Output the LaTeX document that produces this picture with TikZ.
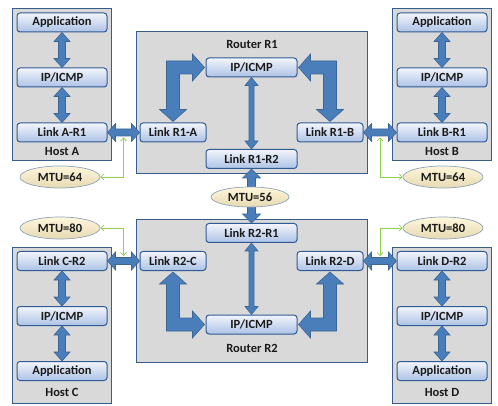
\documentclass[tikz,border=0pt]{standalone}
\usepackage{fontspec}
\setmainfont{Carlito}
\usetikzlibrary{calc,arrows.meta,shapes.geometric}
\definecolor{boxfill}{HTML}{D9D9D9}
\definecolor{boxline}{HTML}{385D8A}
\definecolor{nodetop}{HTML}{F2F5FB}
\definecolor{nodebot}{HTML}{ADC2E5}
\definecolor{nodeline}{HTML}{2F5A94}
\definecolor{arrfill}{HTML}{4A7EBB}
\definecolor{arrline}{HTML}{3A6595}
\definecolor{mtutop}{HTML}{FFF6DC}
\definecolor{mtubot}{HTML}{E6DAB2}
\definecolor{mtuline}{HTML}{8EA2BA}
\definecolor{txt}{HTML}{1A1A1A}
\definecolor{grn}{HTML}{92D050}
\tikzset{
  hostbox/.style={draw=boxline, line width=1.4pt, fill=boxfill, inner sep=0pt, anchor=north west},
  layer/.style={draw=nodeline, line width=1pt, rounded corners=3pt, top color=nodetop, bottom color=nodebot,
    minimum width=90pt, minimum height=19pt, inner sep=0pt, text=txt, font=\bfseries\fontsize{12.5}{14}\selectfont},
  rlink/.style={layer, minimum width=66pt},
  mtu/.style={ellipse, draw=mtuline, line width=0.7pt, top color=mtutop, bottom color=mtubot,
    minimum width=80pt, minimum height=22pt, inner sep=0pt, text=txt, font=\bfseries\fontsize{12.5}{14}\selectfont},
  lbl/.style={font=\bfseries\fontsize{12.5}{14}\selectfont, text=txt, inner sep=0pt},
  blk/.style={fill=arrfill, draw=arrline, line width=0.6pt, line join=miter},
  mtulink/.style={draw=grn, line width=0.8pt, {Straight Barb[length=3pt,width=6pt]}-{Straight Barb[length=3pt,width=6pt]}},
}
% vertical double block arrow: #1 top tip, #2 bottom tip, #3 shaft half, #4 head half, #5 head length
\newcommand\VDbl[5]{%
  \path[blk] let \p1=#1, \p2=#2 in
  (\x1,\y1) -- (\x1+#4,\y1-#5) -- (\x1+#3,\y1-#5) -- (\x1+#3,\y2+#5) -- (\x1+#4,\y2+#5) -- (\x1,\y2)
  -- (\x1-#4,\y2+#5) -- (\x1-#3,\y2+#5) -- (\x1-#3,\y1-#5) -- (\x1-#4,\y1-#5) -- cycle;}
% horizontal double block arrow: #1 left tip, #2 right tip
\newcommand\HDbl[5]{%
  \path[blk] let \p1=#1, \p2=#2 in
  (\x1,\y1) -- (\x1+#5,\y1+#4) -- (\x1+#5,\y1+#3) -- (\x2-#5,\y1+#3) -- (\x2-#5,\y1+#4) -- (\x2,\y1)
  -- (\x2-#5,\y1-#4) -- (\x2-#5,\y1-#3) -- (\x1+#5,\y1-#3) -- (\x1+#5,\y1-#4) -- cycle;}
% bent double block arrow: #1 vertical tip, #2 horizontal tip, #3 dx sign, #4 dy sign (towards vertical tip)
\newcommand\LDbl[4]{%
  \path[blk] let \p1=#1, \p2=#2 in
  ({\x1-(#3)*6.5pt},{\y2-(#4)*6.5pt}) -- ({\x2-(#3)*12pt},{\y2-(#4)*6.5pt}) -- ({\x2-(#3)*12pt},{\y2-(#4)*13.5pt})
  -- (\x2,\y2) -- ({\x2-(#3)*12pt},{\y2+(#4)*13.5pt}) -- ({\x2-(#3)*12pt},{\y2+(#4)*6.5pt})
  -- ({\x1+(#3)*6.5pt},{\y2+(#4)*6.5pt}) -- ({\x1+(#3)*6.5pt},{\y1-(#4)*12pt}) -- ({\x1+(#3)*13.5pt},{\y1-(#4)*12pt})
  -- (\x1,\y1) -- ({\x1-(#3)*13.5pt},{\y1-(#4)*12pt}) -- ({\x1-(#3)*6.5pt},{\y1-(#4)*12pt}) -- cycle;}
\begin{document}
\begin{tikzpicture}[x=1pt,y=-1pt]
\useasboundingbox (0,0) rectangle (498,406);
% containers
\node[hostbox, minimum width=99pt, minimum height=152pt] (hostA) at (12,8) {};
\node[hostbox, minimum width=99pt, minimum height=152pt] (hostB) at (392,8) {};
\node[hostbox, minimum width=99pt, minimum height=156pt] (hostC) at (12,247) {};
\node[hostbox, minimum width=99pt, minimum height=156pt] (hostD) at (392,247) {};
\node[hostbox, minimum width=231pt, minimum height=142pt] (rtr1) at (136,31) {};
\node[hostbox, minimum width=231pt, minimum height=143pt] (rtr2) at (136,219) {};
% labels
\node[lbl] (tA) at (62,151) {Host A};
\node[lbl] (tB) at (442,151) {Host B};
\node[lbl] (tC) at (62,392) {Host C};
\node[lbl] (tD) at (442,392) {Host D};
\node[lbl] (tR1) at (252,44) {Router R1};
\node[lbl] (tR2) at (252,348) {Router R2};
% host A
\node[layer] (appA) at (62,22.5) {Application};
\node[layer] (ipA) at (62,77.5) {IP/ICMP};
\node[layer] (lA) at (62,132.5) {Link A-R1};
% host B
\node[layer] (appB) at (442,22.5) {Application};
\node[layer] (ipB) at (442,77.5) {IP/ICMP};
\node[layer] (lB) at (442,132.5) {Link B-R1};
% host C
\node[layer] (lC) at (62,261) {Link C-R2};
\node[layer] (ipC) at (62,316) {IP/ICMP};
\node[layer] (appC) at (62,371) {Application};
% host D
\node[layer] (lD) at (442,261) {Link D-R2};
\node[layer] (ipD) at (442,316) {IP/ICMP};
\node[layer] (appD) at (442,371) {Application};
% router R1
\node[layer, minimum width=91pt] (ip1) at (251.5,67.5) {IP/ICMP};
\node[rlink] (lr1a) at (173,132.5) {Link R1-A};
\node[rlink] (lr1b) at (330,132.5) {Link R1-B};
\node[layer, minimum width=91pt] (lr12) at (251.5,159) {Link R1-R2};
% router R2
\node[layer, minimum width=91pt] (lr21) at (251.5,233) {Link R2-R1};
\node[rlink] (lr2c) at (173,261) {Link R2-C};
\node[rlink] (lr2d) at (330,261) {Link R2-D};
\node[layer, minimum width=91pt] (ip2) at (251.5,324.5) {IP/ICMP};
% host arrows
\VDbl{(appA.south)}{(ipA.north)}{3.5pt}{8pt}{9pt}
\VDbl{(ipA.south)}{(lA.north)}{3.5pt}{8pt}{9pt}
\VDbl{(appB.south)}{(ipB.north)}{3.5pt}{8pt}{9pt}
\VDbl{(ipB.south)}{(lB.north)}{3.5pt}{8pt}{9pt}
\VDbl{(lC.south)}{(ipC.north)}{3.5pt}{8pt}{9pt}
\VDbl{(ipC.south)}{(appC.north)}{3.5pt}{8pt}{9pt}
\VDbl{(lD.south)}{(ipD.north)}{3.5pt}{8pt}{9pt}
\VDbl{(ipD.south)}{(appD.north)}{3.5pt}{8pt}{9pt}
% host-router links
\HDbl{(lA.east)}{(lr1a.west)}{3.5pt}{9pt}{8pt}
\HDbl{(lr1b.east)}{(lB.west)}{3.5pt}{9pt}{8pt}
\HDbl{(lC.east)}{(lr2c.west)}{3.5pt}{9pt}{8pt}
\HDbl{(lr2d.east)}{(lD.west)}{3.5pt}{9pt}{8pt}
% router internal
\VDbl{(ip1.south)}{(lr12.north)}{2.5pt}{6.5pt}{8pt}
\VDbl{(lr21.south)}{(ip2.north)}{2.5pt}{6.5pt}{8pt}
\LDbl{([yshift=1pt]lr1a.north)}{([xshift=-1pt]ip1.west)}{1}{-1}
\LDbl{([yshift=1pt]lr1b.north)}{([xshift=1pt]ip1.east)}{-1}{-1}
\LDbl{([yshift=-1pt]lr2c.south)}{([xshift=-1pt]ip2.west)}{1}{1}
\LDbl{([yshift=-1pt]lr2d.south)}{([xshift=1pt]ip2.east)}{-1}{1}
% router-router
\VDbl{(lr12.south)}{(lr21.north)}{4pt}{9pt}{9pt}
% MTU
\node[mtu, minimum width=78pt, minimum height=20pt] (mtu56) at (250,197) {MTU=56};
\node[mtu] (mtuA) at (60,177) {MTU=64};
\node[mtu] (mtuB) at (443,177) {MTU=64};
\node[mtu] (mtuC) at (60,228) {MTU=80};
\node[mtu] (mtuD) at (443,228) {MTU=80};
\coordinate (gA) at ($(lA.east)!0.5!(lr1a.west)+(0,5)$);
\coordinate (gB) at ($(lr1b.east)!0.5!(lB.west)+(0,5)$);
\coordinate (gC) at ($(lC.east)!0.5!(lr2c.west)+(0,-5)$);
\coordinate (gD) at ($(lr2d.east)!0.5!(lD.west)+(0,-5)$);
\draw[mtulink] (mtuA.east) -| (gA);
\draw[mtulink] (gB) |- (mtuB.west);
\draw[mtulink] (mtuC.east) -| (gC);
\draw[mtulink] (gD) |- (mtuD.west);
\end{tikzpicture}
\end{document}
